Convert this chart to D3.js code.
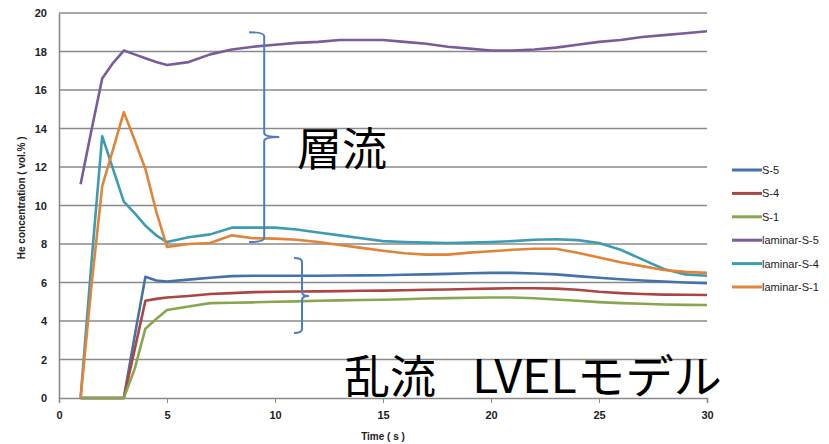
<!DOCTYPE html>
<html>
<head>
<meta charset="utf-8">
<script src="https://cdn.jsdelivr.net/npm/d3@7"></script>
<style>
  body { margin: 0; background: #fff; }
  svg { display: block; }
</style>
</head>
<body>
<div id="vis"></div>
<script>
// time axis (s)
var time = [1, 1.5, 2, 2.5, 3, 3.5, 4, 4.5, 5, 6, 7, 8, 9, 10, 11, 12, 13, 14, 15, 16, 17, 18, 19, 20, 21, 22, 23, 24, 25, 26, 27, 28, 29, 30];

// He concentration (vol.%)
var s5 = [0, 0, 0, 0, 0, 3.2, 6.3, 6.1, 6.05, 6.15, 6.25, 6.33, 6.35, 6.35, 6.35, 6.35, 6.36, 6.37, 6.38, 6.4, 6.42, 6.45, 6.48, 6.5, 6.5, 6.47, 6.42, 6.33, 6.25, 6.17, 6.1, 6.05, 6.0, 5.97];
var s4 = [0, 0, 0, 0, 0, 2.5, 5.05, 5.15, 5.22, 5.3, 5.4, 5.45, 5.5, 5.52, 5.53, 5.54, 5.55, 5.57, 5.58, 5.6, 5.62, 5.64, 5.66, 5.68, 5.7, 5.7, 5.68, 5.62, 5.52, 5.45, 5.4, 5.37, 5.36, 5.35];
var s1 = [0, 0, 0, 0, 0, 1.5, 3.6, 4.1, 4.57, 4.75, 4.93, 4.95, 4.97, 5.0, 5.02, 5.05, 5.07, 5.09, 5.1, 5.13, 5.17, 5.19, 5.21, 5.22, 5.22, 5.18, 5.12, 5.05, 4.98, 4.93, 4.9, 4.86, 4.84, 4.83];
var lamS5 = [11.1, 13.9, 16.6, 17.4, 18.05, 17.85, 17.65, 17.45, 17.3, 17.45, 17.85, 18.1, 18.25, 18.35, 18.45, 18.5, 18.6, 18.6, 18.6, 18.5, 18.4, 18.25, 18.15, 18.05, 18.05, 18.1, 18.2, 18.35, 18.5, 18.6, 18.75, 18.85, 18.95, 19.05];
var lamS4 = [0, 7.0, 13.6, 11.9, 10.2, 9.6, 8.95, 8.45, 8.1, 8.35, 8.5, 8.85, 8.85, 8.85, 8.75, 8.6, 8.45, 8.3, 8.15, 8.1, 8.07, 8.05, 8.07, 8.1, 8.15, 8.22, 8.25, 8.2, 8.05, 7.7, 7.2, 6.7, 6.42, 6.35];
var lamS1 = [0, 5.8, 11.0, 12.9, 14.85, 13.4, 11.9, 9.7, 7.85, 8.0, 8.05, 8.45, 8.3, 8.28, 8.22, 8.1, 7.95, 7.8, 7.65, 7.52, 7.45, 7.45, 7.55, 7.62, 7.7, 7.75, 7.75, 7.55, 7.3, 7.05, 6.85, 6.65, 6.55, 6.5];

var seriesNames = ["S-5", "S-4", "S-1", "laminar-S-5", "laminar-S-4", "laminar-S-1"];
var seriesValues = [s5, s4, s1, lamS5, lamS4, lamS1];
var seriesColors = ["#4572a7", "#aa4643", "#89a54e", "#7a5c9a", "#3d9bb2", "#e0843a"];

var yTicks = [0, 2, 4, 6, 8, 10, 12, 14, 16, 18, 20];
var xTicks = [0, 5, 10, 15, 20, 25, 30];

var width = 829, height = 444;
var margin = { top: 13, right: 122, bottom: 46, left: 59 };

var svg = d3.select("#vis")
  .append("svg")
  .attr("width", width)
  .attr("height", height)
  .style("font-family", "Liberation Sans, Arial, sans-serif");

svg.append("rect").attr("width", width).attr("height", height).attr("fill", "#fff");

var x = d3.scaleLinear().domain([0, 30]).range([margin.left, width - margin.right]);
var y = d3.scaleLinear().domain([0, 20]).range([height - margin.bottom, margin.top]);

// gridlines
svg.append("g")
  .selectAll("line")
  .data(yTicks.filter(d => d > 0))
  .enter()
  .append("line")
    .attr("x1", x(0))
    .attr("x2", x(30))
    .attr("y1", d => y(d))
    .attr("y2", d => y(d))
    .attr("stroke", "#8a8a8a")
    .attr("stroke-width", 1.6);

// y axis
var yAxis = svg.append("g")
  .attr("transform", "translate(" + x(0) + ",0)")
  .call(d3.axisLeft(y).tickValues(yTicks).tickSize(0).tickPadding(12));
yAxis.select(".domain").attr("stroke", "#8a8a8a").attr("stroke-width", 1.6);

// x axis
var xAxis = svg.append("g")
  .attr("transform", "translate(0," + y(0) + ")")
  .call(d3.axisBottom(x).tickValues(xTicks).tickSize(5).tickPadding(8));
xAxis.select(".domain").attr("stroke", "#8a8a8a").attr("stroke-width", 1.6);
xAxis.selectAll(".tick line").attr("stroke", "#8a8a8a");

svg.selectAll(".tick text")
  .attr("fill", "#222")
  .style("font-size", "11px")
  .style("font-weight", "bold");

// axis titles
svg.append("text")
  .attr("transform", "translate(25," + y(10.4) + ") rotate(-90)")
  .attr("text-anchor", "middle")
  .style("font-size", "10px")
  .style("font-weight", "bold")
  .attr("fill", "#222")
  .text("He concentration ( vol.% )");

svg.append("text")
  .attr("x", 383)
  .attr("y", 440)
  .attr("text-anchor", "middle")
  .style("font-size", "10px")
  .style("font-weight", "bold")
  .attr("fill", "#222")
  .text("Time ( s )");

// series lines
var line = d3.line()
  .x(d => x(d[0]))
  .y(d => y(d[1]));

var plotData = seriesValues.map(function (vals, i) {
  return { name: seriesNames[i], color: seriesColors[i], points: time.map((t, j) => [t, vals[j]]) };
});

svg.append("g")
  .selectAll("path")
  .data(plotData)
  .enter()
  .append("path")
    .attr("d", d => line(d.points))
    .attr("fill", "none")
    .attr("stroke", d => d.color)
    .attr("stroke-width", 2.6)
    .attr("stroke-linejoin", "round");

// braces (in data units)
var braces = [
  { x: 9.5, top: 19.0, mid: 13.56, bottom: 8.1, hook: 8.8, tip: 10.2 },
  { x: 11.25, top: 7.27, mid: 5.3, bottom: 3.38, hook: 10.88, tip: 11.57 }
];

function bracePath(b) {
  var p = d3.path();
  var bx = x(b.x), r = 4;
  p.moveTo(x(b.hook), y(b.top));
  p.quadraticCurveTo(bx, y(b.top), bx, y(b.top) + r);
  p.lineTo(bx, y(b.mid) - r);
  p.quadraticCurveTo(bx, y(b.mid), x(b.tip), y(b.mid));
  p.moveTo(x(b.tip), y(b.mid));
  p.quadraticCurveTo(bx, y(b.mid), bx, y(b.mid) + r);
  p.lineTo(bx, y(b.bottom) - r);
  p.quadraticCurveTo(bx, y(b.bottom), x(b.hook), y(b.bottom));
  return p.toString();
}

svg.append("g")
  .selectAll("path")
  .data(braces)
  .enter()
  .append("path")
    .attr("d", bracePath)
    .attr("fill", "none")
    .attr("stroke", "#4a7ec3")
    .attr("stroke-width", 2);

// big labels
var cjk = "Noto Sans CJK JP, sans-serif";
svg.append("text")
  .attr("x", 297)
  .attr("y", 166)
  .style("font-family", cjk)
  .style("font-size", "45px")
  .attr("fill", "#000")
  .text("層流");

svg.append("text")
  .attr("x", 344)
  .attr("y", 393)
  .style("font-family", cjk)
  .style("font-size", "46px")
  .attr("fill", "#000")
  .text("乱流");

svg.append("text")
  .attr("x", 472)
  .attr("y", 393)
  .attr("textLength", 250)
  .attr("lengthAdjust", "spacingAndGlyphs")
  .style("font-family", cjk)
  .style("font-size", "46px")
  .attr("fill", "#000")
  .text("LVELモデル");

// legend
var legend = svg.append("g")
  .selectAll("g")
  .data(plotData)
  .enter()
  .append("g")
    .attr("transform", (d, i) => "translate(732," + (170 + i * 23.4) + ")");

legend.append("line")
  .attr("x1", 0)
  .attr("x2", 30)
  .attr("stroke", d => d.color)
  .attr("stroke-width", 3);

legend.append("text")
  .attr("x", 30)
  .attr("y", 4)
  .style("font-size", "11px")
  .attr("fill", "#222")
  .text(d => d.name);
</script>
</body>
</html>
